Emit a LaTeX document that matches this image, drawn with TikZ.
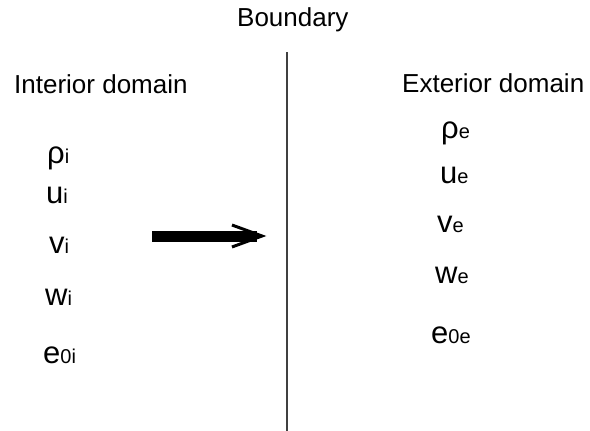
\documentclass[tikz,border=0pt]{standalone}
\usepackage{fontspec}
\setmainfont{Liberation Sans}
\usetikzlibrary{positioning}

\newcommand{\flowvar}[2]{{\fontsize{31}{36}\selectfont #1}{\fontsize{20}{22}\selectfont #2}}

\begin{document}
\begin{tikzpicture}[
  x=1pt, y=-1pt,
  title/.style={anchor=base west, inner sep=0pt, font=\fontsize{26}{30}\selectfont},
  qvar/.style={anchor=base west, inner sep=0pt},
  wall/.style={draw=black!75, line width=1.5pt}
]
\useasboundingbox (0,0) rectangle (590,431);

\node[title] (bnd) at (237,27) {Boundary};
\node[title] (int) at (14,93) {Interior domain};
\node[title] (ext) at (402,92) {Exterior domain};

% the boundary itself
\coordinate (btop) at (287,52);
\coordinate (bbot) at (287,431);
\draw[wall] (btop) -- (bbot);

% interior state
\node[qvar] (rhoi) at (47,163) {\flowvar{ρ}{i}};
\node[qvar] (ui) at (46,203) {\flowvar{u}{i}};
\node[qvar] (vi) at (49,253) {\flowvar{v}{i}};
\node[qvar] (wi) at (45,305) {\flowvar{w}{i}};
\node[qvar] (ei) at (43,363) {\flowvar{e}{0i}};

% exterior state
\node[qvar] (rhoe) at (441,138) {\flowvar{ρ}{e}};
\node[qvar] (ue) at (440,183) {\flowvar{u}{e}};
\node[qvar] (ve) at (437,232) {\flowvar{v}{e}};
\node[qvar] (we) at (435,283) {\flowvar{w}{e}};
\node[qvar] (ee) at (431,343) {\flowvar{e}{0e}};

% arrow towards the boundary
\coordinate (tail) at (152,236);
\coordinate (tip) at (262,236);
\draw[line width=11pt] (tail) -- ([xshift=-5pt]tip);
\draw[line width=3pt] (tip) ++(-30,-11) -- (tip) -- ++(-30,11);
\end{tikzpicture}
\end{document}
